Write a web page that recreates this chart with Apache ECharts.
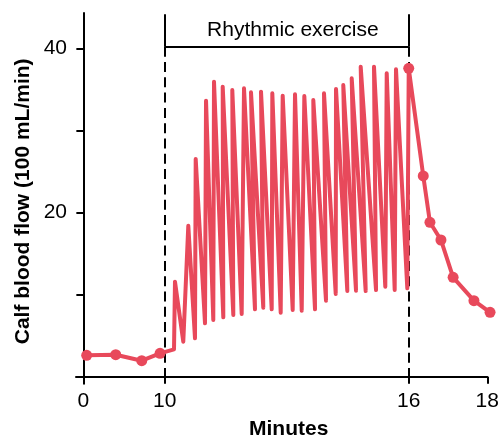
<!DOCTYPE html>
<html>
<head>
<meta charset="utf-8">
<script src="https://cdn.jsdelivr.net/npm/echarts@6/dist/echarts.min.js"></script>
<style>
html,body{margin:0;padding:0;background:#fff;}
#chart{width:500px;height:437px;}
</style>
</head>
<body>
<div id="chart"></div>
<script>
// ---- data (real minutes, flow in 100 mL/min) ----
var preMinutes = [0.41, 3.98, 7.18, 9.43];
var preFlow = [2.61, 2.68, 1.95, 2.85];

var exerciseMinutes = [10.229, 10.253, 10.457, 10.580, 10.745, 10.762, 10.991, 11.016, 11.195, 11.212,
  11.441, 11.426, 11.687, 11.662, 11.893, 11.950, 12.220, 12.122, 12.424, 12.368,
  12.631, 12.646, 12.852, 12.901, 13.147, 13.204, 13.369, 13.433, 13.696, 13.654,
  13.966, 13.917, 14.205, 14.212, 14.490, 14.391, 14.704, 14.598, 14.942, 14.819,
  15.196, 15.146, 15.424, 15.459, 15.655, 15.687, 15.965];
var exerciseFlow = [3.34, 11.59, 4.27, 18.41, 4.68, 26.55, 6.51, 33.66, 6.91, 35.98,
  7.24, 35.37, 7.52, 34.96, 7.65, 35.17, 8.22, 34.68, 8.41, 34.76,
  8.22, 34.56, 7.80, 34.27, 8.13, 34.44, 8.05, 34.23, 8.22, 33.74,
  9.27, 34.56, 10.09, 35.09, 10.45, 35.57, 10.49, 36.39, 10.45, 37.80,
  10.57, 37.80, 10.98, 37.00, 10.57, 37.49, 10.78];

var postMinutes = [16.0, 16.37, 16.54, 16.82, 17.13, 17.66, 18.07];
var postFlow = [37.61, 24.48, 18.83, 16.67, 12.12, 9.27, 7.85];

var xTickMinutes = [0, 10, 16, 18];
var yTickValues = [0, 10, 20, 30, 40];
var yLabelValues = [20, 40];
var exerciseStart = 10, exerciseEnd = 16;
var exerciseLabel = 'Rhythmic exercise';

// ---- broken time scale: 0-10 compressed, 10-16 full, 16-18 ~full ----
var R0 = 0.2, R2 = 0.966;
function toD(x) {
  if (x <= 10) return x * R0;
  if (x <= 16) return 10 * R0 + (x - 10);
  return 10 * R0 + 6 + (x - 16) * R2;
}
function fromD(d) {
  if (d <= 10 * R0 + 1e-9) return d / R0;
  if (d <= 10 * R0 + 6 + 1e-9) return d - 10 * R0 + 10;
  return 16 + (d - 10 * R0 - 6) / R2;
}

var data = [];
var markerIdx = {};
preMinutes.forEach(function (m, i) { markerIdx[data.length] = 1; data.push([toD(m), preFlow[i]]); });
exerciseMinutes.forEach(function (m, i) { data.push([toD(m), exerciseFlow[i]]); });
postMinutes.forEach(function (m, i) { markerIdx[data.length] = 1; data.push([toD(m), postFlow[i]]); });

var red = '#E8495B';
var ink = '#000';
var dS = toD(exerciseStart), dE = toD(exerciseEnd);
var bracketY = 40.24, bracketTop = 44.2;

var chart = echarts.init(document.getElementById('chart'), null, {renderer: 'canvas'});
chart.setOption({
  animation: false,
  backgroundColor: '#fff',
  textStyle: {fontFamily: 'Liberation Sans, Arial, sans-serif'},
  grid: {left: 76, right: 12.7, top: 13, bottom: 53.3, containLabel: false, outerBoundsMode: 'none'},
  xAxis: {
    type: 'value',
    min: -0.181,
    max: toD(18),
    axisLine: {show: true, onZero: true, lineStyle: {color: ink, width: 2}},
    axisTick: {show: true, length: 7, lineStyle: {color: ink, width: 2}, customValues: xTickMinutes.map(toD)},
    axisLabel: {
      show: true, fontSize: 21, color: ink, margin: 7,
      customValues: xTickMinutes.map(toD),
      formatter: function (v) { return String(Math.round(fromD(v))); }
    },
    splitLine: {show: false},
    name: 'Minutes',
    nameLocation: 'middle',
    nameGap: 35,
    nameMoveOverlap: false,
    nameTextStyle: {fontSize: 21, fontWeight: 'bold', color: ink, padding: [0, 0, 0, 14]}
  },
  yAxis: {
    type: 'value',
    min: -0.854,
    max: 44.35,
    axisLine: {show: true, onZero: true, lineStyle: {color: ink, width: 2}},
    axisTick: {show: true, length: 7, lineStyle: {color: ink, width: 2}, customValues: yTickValues},
    axisLabel: {show: true, fontSize: 21, color: ink, margin: 9, customValues: yLabelValues},
    splitLine: {show: false},
    name: 'Calf blood flow (100 mL/min)',
    nameLocation: 'middle',
    nameGap: 42,
    nameMoveOverlap: false,
    nameTextStyle: {fontSize: 21, fontWeight: 'bold', color: ink, padding: [0, 6, 0, 0]}
  },
  series: [{
    type: 'line',
    data: data,
    clip: false,
    symbol: 'circle',
    symbolSize: function (v, p) { return markerIdx[p.dataIndex] ? 11 : 0; },
    itemStyle: {color: red},
    lineStyle: {color: red, width: 4, join: 'round', cap: 'round'},
    z: 3,
    markLine: {
      silent: true,
      symbol: ['none', 'none'],
      label: {show: false},
      lineStyle: {color: ink, width: 2, type: 'solid'},
      z: 2,
      data: [
        [{coord: [dS, bracketY]}, {coord: [dE, bracketY]}],
        [{coord: [dS, bracketTop]}, {coord: [dS, bracketY]}],
        [{coord: [dE, bracketTop]}, {coord: [dE, bracketY]}],
        [{coord: [dS, bracketY], lineStyle: {type: [10, 5.3]}}, {coord: [dS, 0]}],
        [{coord: [dE, bracketY], lineStyle: {type: [10, 5.3]}}, {coord: [dE, 0]}]
      ]
    },
    markPoint: {
      silent: true,
      symbol: 'circle',
      symbolSize: 0,
      label: {show: true, position: 'inside', formatter: exerciseLabel, fontSize: 21, color: ink,
        fontFamily: 'Liberation Sans, Arial, sans-serif'},
      data: [{coord: [toD(13.15), 42.28], value: 0}]
    }
  }]
});
</script>
</body>
</html>
